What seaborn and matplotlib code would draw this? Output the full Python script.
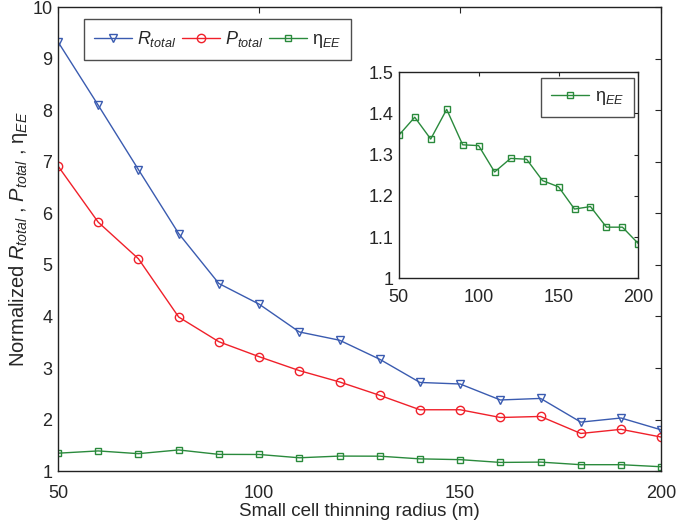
import numpy as np
import pandas as pd
import seaborn as sns
import matplotlib
matplotlib.use("Agg")
import matplotlib.pyplot as plt

# values
radius = [50, 60, 70, 80, 90, 100, 110, 120, 130, 140, 150, 160, 170, 180, 190, 200]
r_total = [9.33, 8.10, 6.85, 5.61, 4.64, 4.24, 3.70, 3.54, 3.17, 2.72, 2.69, 2.38, 2.41, 1.95, 2.03, 1.80]
p_total = [6.92, 5.83, 5.12, 3.99, 3.51, 3.22, 2.95, 2.73, 2.47, 2.19, 2.19, 2.04, 2.06, 1.73, 1.81, 1.66]
eta_ee = [1.347, 1.391, 1.338, 1.410, 1.324, 1.322, 1.258, 1.291, 1.289, 1.237, 1.222, 1.168, 1.174, 1.124, 1.124, 1.084]

sns.set_style("white")
plt.rcParams['font.family'] = ['Liberation Sans', 'DejaVu Sans']
plt.rcParams['mathtext.fontset'] = 'custom'
plt.rcParams['mathtext.rm'] = 'Liberation Sans'
plt.rcParams['mathtext.it'] = 'Liberation Sans:italic'
plt.rcParams['xtick.direction'] = 'in'
plt.rcParams['ytick.direction'] = 'in'

df = pd.DataFrame({'radius': radius, 'R': r_total, 'P': p_total, 'eta': eta_ee})

blue = '#3a5bb0'
red = '#f0202a'
green = '#2a8a3c'

fig = plt.figure(figsize=(6.77, 5.24), dpi=100)
ax = fig.add_axes([0.0857, 0.101, 0.891, 0.885])

sns.lineplot(data=df, x='radius', y='R', ax=ax, color=blue, marker='v', markersize=6,
             markerfacecolor='none', markeredgecolor=blue, markeredgewidth=1, lw=1,
             label=r'$R_{total}$')
sns.lineplot(data=df, x='radius', y='P', ax=ax, color=red, marker='o', markersize=6,
             markerfacecolor='none', markeredgecolor=red, markeredgewidth=1, lw=1,
             label=r'$P_{total}$')
sns.lineplot(data=df, x='radius', y='eta', ax=ax, color=green, marker='s', markersize=5,
             markerfacecolor='none', markeredgecolor=green, markeredgewidth=1, lw=1,
             label=r'$\mathrm{\eta}_{EE}$')

ax.set_xlim(50, 200)
ax.set_ylim(1, 10)
ax.set_xticks([50, 100, 150, 200])
ax.set_yticks(range(1, 11))
ax.tick_params(labelsize=13, top=True, right=True, length=4, width=0.8)
ax.tick_params(axis='x', pad=10)
ax.tick_params(axis='y', pad=4)
ax.set_xlabel('Small cell thinning radius (m)', fontsize=13.5, labelpad=1)
ax.set_ylabel(r'Normalized $R_{total}$ , $P_{total}$ , $\mathrm{\eta}_{EE}$', fontsize=14.5, labelpad=2)
for s in ax.spines.values():
    s.set_color('#222222')
    s.set_linewidth(1)
leg = ax.legend(loc='upper left', bbox_to_anchor=(0.043, 0.974), ncol=3, fontsize=13,
                frameon=True, fancybox=False, edgecolor='#222222', handlelength=2.1,
                handletextpad=0.3, columnspacing=0.3, borderpad=0.55, borderaxespad=0)
leg.get_frame().set_linewidth(1)

# inset
ins = fig.add_axes([0.589, 0.469, 0.354, 0.393])
sns.lineplot(data=df, x='radius', y='eta', ax=ins, color=green, marker='s', markersize=5,
             markerfacecolor='none', markeredgecolor=green, markeredgewidth=1, lw=1,
             label=r'$\mathrm{\eta}_{EE}$')
ins.set_xlim(50, 200)
ins.set_ylim(1, 1.5)
ins.set_xticks([50, 100, 150, 200])
ins.set_yticks([1, 1.1, 1.2, 1.3, 1.4, 1.5])
ins.set_yticklabels(['1', '1.1', '1.2', '1.3', '1.4', '1.5'])
ins.tick_params(labelsize=13, top=True, right=True, length=3, width=0.8)
ins.tick_params(axis='x', pad=8)
ins.tick_params(axis='y', pad=4)
ins.set_xlabel('')
ins.set_ylabel('')
for s in ins.spines.values():
    s.set_color('#222222')
    s.set_linewidth(1)
leg2 = ins.legend(loc='upper right', bbox_to_anchor=(0.98, 0.97), fontsize=13, frameon=True,
                  fancybox=False, edgecolor='#222222', handlelength=2.1, handletextpad=0.3,
                  borderpad=0.55, borderaxespad=0)
leg2.get_frame().set_linewidth(1)

fig.savefig('out.png', dpi=100)
